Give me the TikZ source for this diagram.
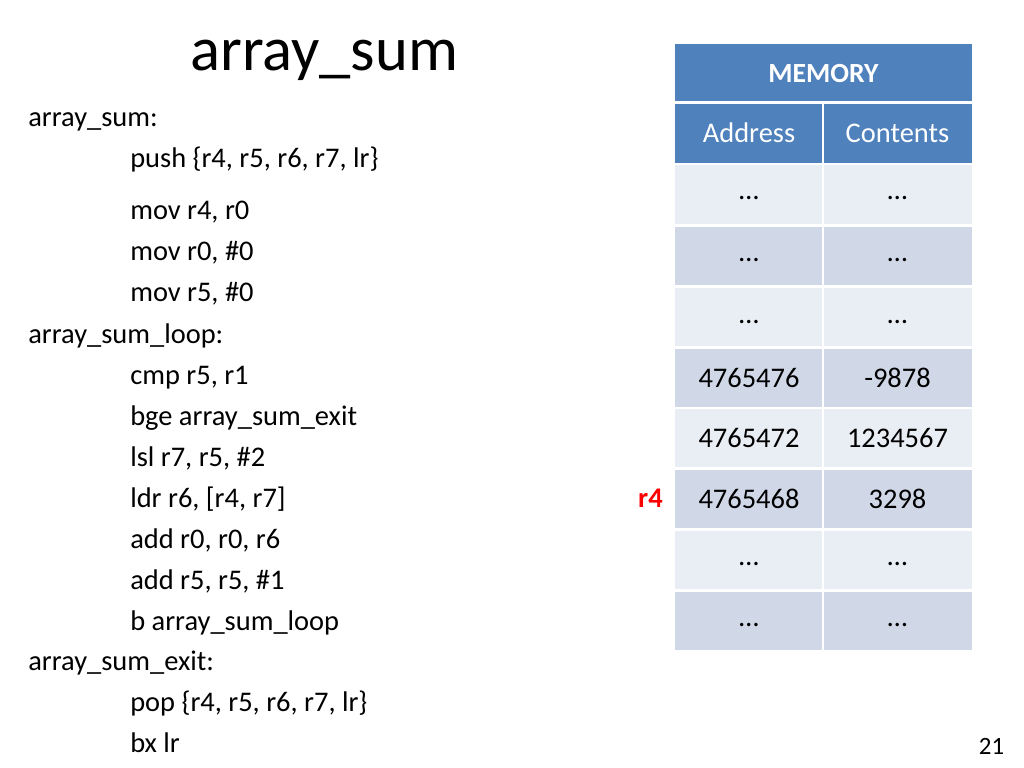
\documentclass[tikz,border=0pt]{standalone}
\usepackage{fontspec}
\setmainfont{Carlito}
\definecolor{hdr}{HTML}{4F81BD}
\definecolor{rowA}{HTML}{E9EDF4}
\definecolor{rowB}{HTML}{D0D8E8}
\begin{document}
\begin{tikzpicture}[x=0.703125pt,y=-0.703125pt,
  code/.style={anchor=base west,inner sep=0pt,font=\fontsize{20}{24}\selectfont},
  cell/.style={anchor=base,inner sep=0pt,font=\fontsize{20}{24}\selectfont},
  hcell/.style={cell,text=white},
  sep/.style={draw=white,line width=1.6pt}]
\useasboundingbox (0,0) rectangle (1024,768);
\fill[white] (0,0) rectangle (1024,768);
% title
\node[anchor=base west,inner sep=0pt,font=\fontsize{44}{52}\selectfont] (title) at (190,71) {array\_sum};
% code
\node[code] (l1) at (28,127) {array\_sum:};
\node[code] (l2) at (130,168) {push \{r4, r5, r6, r7, lr\}};
\node[code] (l3) at (130,220) {mov r4, r0};
\node[code] (l4) at (130,261) {mov r0, \#0};
\node[code] (l5) at (130,302) {mov r5, \#0};
\node[code] (l6) at (28,343) {array\_sum\_loop:};
\node[code] (l7) at (130,384) {cmp r5, r1};
\node[code] (l8) at (130,425) {bge array\_sum\_exit};
\node[code] (l9) at (130,466) {lsl r7, r5, \#2};
\node[code] (l10) at (130,507) {ldr r6, [r4, r7]};
\node[code] (l11) at (130,548) {add r0, r0, r6};
\node[code] (l12) at (130,589) {add r5, r5, \#1};
\node[code] (l13) at (130,630) {b array\_sum\_loop};
\node[code] (l14) at (28,670) {array\_sum\_exit:};
\node[code] (l15) at (130,711) {pop \{r4, r5, r6, r7, lr\}};
\node[code] (l16) at (130,752) {bx lr};
% table backgrounds
\fill[hdr] (675,44) rectangle (972,164);
\fill[rowA] (675,164) rectangle (972,225.5);
\fill[rowB] (675,225.5) rectangle (972,286.5);
\fill[rowA] (675,286.5) rectangle (972,347.5);
\fill[rowB] (675,347.5) rectangle (972,408);
\fill[rowA] (675,408) rectangle (972,468.5);
\fill[rowB] (675,468.5) rectangle (972,529.5);
\fill[rowA] (675,529.5) rectangle (972,590.5);
\fill[rowB] (675,590.5) rectangle (972,650);
% separators
\draw[draw=white,line width=2.2pt] (675,102.5) -- (972,102.5);
\draw[sep] (675,164) -- (972,164);
\draw[sep] (675,225.5) -- (972,225.5);
\draw[sep] (675,286.5) -- (972,286.5);
\draw[sep] (675,347.5) -- (972,347.5);
\draw[sep] (675,408) -- (972,408);
\draw[sep] (675,468.5) -- (972,468.5);
\draw[sep] (675,529.5) -- (972,529.5);
\draw[sep] (675,590.5) -- (972,590.5);
\draw[sep] (823,102.5) -- (823,650);
% header text
\node[hcell,font=\fontsize{19.5}{24}\selectfont\bfseries] (mem) at (823.5,83) {MEMORY};
\node[hcell] (haddr) at (749,143) {Address};
\node[hcell] (hcont) at (897.5,143) {Contents};
% rows
\node[cell] (a1) at (749,200) {…};
\node[cell] (c1) at (897.5,200) {…};
\node[cell] (a2) at (749,262) {…};
\node[cell] (c2) at (897.5,262) {…};
\node[cell] (a3) at (749,323) {…};
\node[cell] (c3) at (897.5,323) {…};
\node[cell] (a4) at (749,387) {4765476};
\node[cell] (c4) at (897.5,387) {-9878};
\node[cell] (a5) at (749,447.5) {4765472};
\node[cell] (c5) at (897.5,447.5) {1234567};
\node[cell] (a6) at (749,508.5) {4765468};
\node[cell] (c6) at (897.5,508.5) {3298};
\node[cell] (a7) at (749,565) {…};
\node[cell] (c7) at (897.5,565) {…};
\node[cell] (a8) at (749,626) {…};
\node[cell] (c8) at (897.5,626) {…};
% pointer label
\node[anchor=base east,inner sep=0pt,text=red,font=\fontsize{20}{24}\selectfont\bfseries] (r4) at (663,507.5) {r4};
% page number
\node[anchor=base,inner sep=0pt,font=\fontsize{17.5}{21}\selectfont] (pg) at (991.5,754) {21};
\end{tikzpicture}
\end{document}
